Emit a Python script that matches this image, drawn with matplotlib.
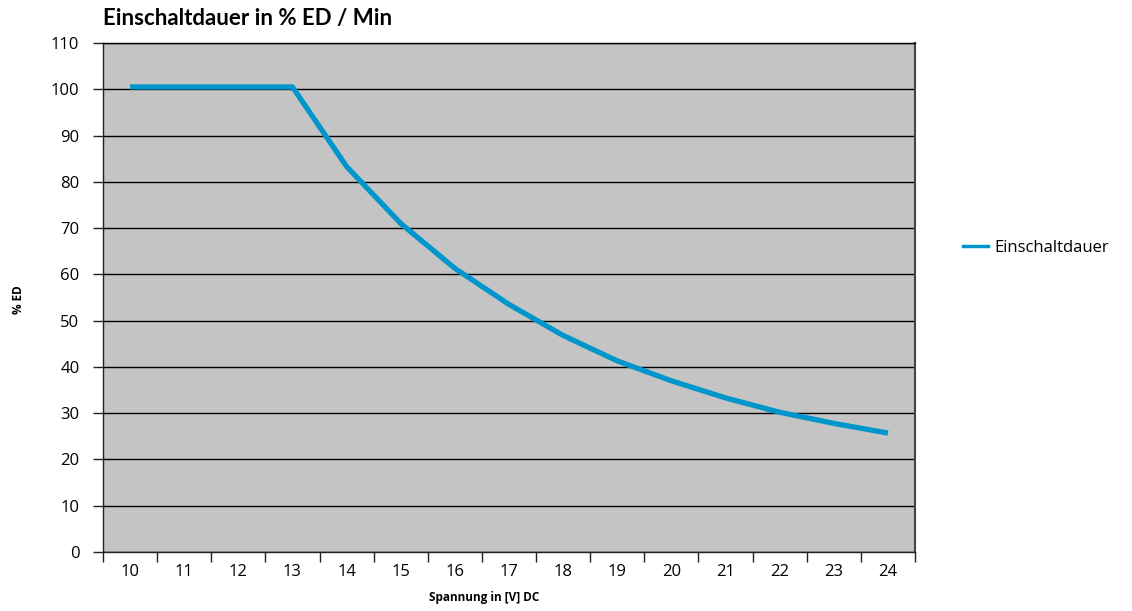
import matplotlib
matplotlib.use("Agg")
import matplotlib.pyplot as plt
from matplotlib.lines import Line2D

# Data
voltages = [10, 11, 12, 13, 14, 15, 16, 17, 18, 19, 20, 21, 22, 23, 24]
einschaltdauer = [100.5, 100.5, 100.5, 100.5, 83.3, 71.0, 61.3, 53.5, 46.8,
                  41.3, 37.0, 33.3, 30.2, 27.8, 25.7]
y_ticks = list(range(0, 111, 10))

title = "Einschaltdauer in % ED / Min"
x_label = "Spannung in [V] DC"
y_label = "% ED"
series_name = "Einschaltdauer"

plt.rcParams['font.family'] = ['Open Sans', 'DejaVu Sans']

fig = plt.figure(figsize=(11.32, 6.11), dpi=100)
ax = fig.add_axes([103/1132, (611-552)/611, (915-103)/1132, (552-43)/611])
ax.set_facecolor('#c4c4c4')

pos = list(range(len(voltages)))
ax.plot(pos, einschaltdauer, color='#0096cc', lw=3.8, solid_capstyle='butt',
        solid_joinstyle='round', zorder=3)

ax.set_xlim(-0.5, len(voltages) - 0.5)
ax.set_ylim(0, 110)
ax.set_yticks(y_ticks)
ax.set_yticklabels([str(v) for v in y_ticks], fontsize=12)
ax.yaxis.grid(True, color='black', lw=1.0)
ax.set_axisbelow(True)

# category axis: tick marks at boundaries, labels at centres
ax.set_xticks([p - 0.5 for p in pos] + [len(voltages) - 0.5])
ax.set_xticklabels([])
ax.set_xticks(pos, minor=True)
ax.set_xticklabels([str(v) for v in voltages], minor=True, fontsize=12)
ax.tick_params(axis='x', which='major', direction='out', length=7, width=1, color='#222222')
ax.tick_params(axis='x', which='minor', length=0, pad=9)
ax.tick_params(axis='y', direction='out', length=7, width=1, color='#222222', pad=10)

for s in ['left', 'bottom']:
    ax.spines[s].set_color('#222222')
    ax.spines[s].set_linewidth(1.0)
ax.spines['right'].set_color('#444444')
ax.spines['right'].set_linewidth(1.5)
ax.spines['top'].set_color('black')
ax.spines['top'].set_linewidth(1.0)

fig.text(103/1132, 1 - 19/611, title, fontsize=16, fontweight='bold', va='center', ha='left',
         family=['Lato', 'DejaVu Sans'])
fig.text(484/1132, 1 - 598/611, x_label, fontsize=8.5, fontweight='bold', ha='center', va='center')
fig.text(18/1132, 1 - 300/611, y_label, fontsize=8.5, fontweight='bold', ha='center', va='center', rotation=90)

handle = Line2D([0], [0], color='#0096cc', lw=2.5)
leg = fig.legend([handle], [series_name], loc='center left', bbox_to_anchor=(948/1132, 1 - 248/611),
                 frameon=False, fontsize=12, handlelength=1.5, handletextpad=0.4)

fig.savefig('out.png', dpi=100)
